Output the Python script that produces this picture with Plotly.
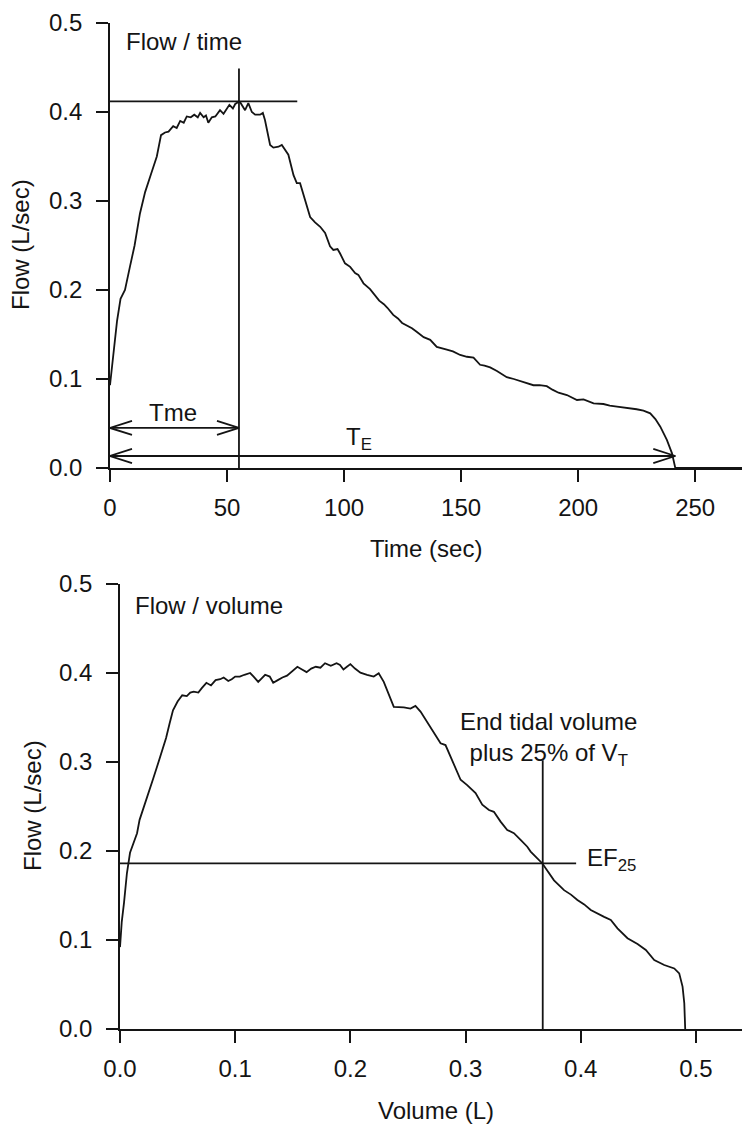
import plotly.graph_objects as go

# ---- Flow / time trace (time in s, flow in L/s) ----
time_s = [0, 1.5, 3, 4.5, 6.4, 8.5, 10.5, 12.8, 15, 17.5, 20, 21.8, 23.5, 25, 27, 28.5,
          30, 31.5, 32.8, 34.5, 36, 37.5, 38.5, 40, 41, 42, 43.5, 45, 47, 48.5, 50, 51,
          52.5, 53.5, 54.7, 55.6, 57.7, 59.1, 60.6, 62, 64.1, 65.3, 66.2, 68.4, 69.8, 72,
          73.4, 74.8, 76.2, 78.4, 79.8, 81.2, 83.3, 85.5, 87.6, 89.8, 91.9, 94, 95.4,
          97.2, 98.3, 100.4, 102.6, 104.7, 106.1, 108.3, 111.1, 113, 115, 117, 118.5,
          121, 123, 124.8, 127, 129, 131, 134, 136.8, 139.6, 143.9, 146.5, 149.6, 152.5,
          155.3, 158.1, 160, 162.4, 165.3, 169.5, 172.5, 175.2, 178, 180.9, 183.5, 186.6,
          189, 191.6, 195.2, 199.5, 202.3, 206.6, 210.8, 213.5, 216.6, 219.5, 222.2, 225,
          227.9, 230.8, 233, 235.1, 237.9, 240.1, 241.5, 270]
flow_t = [0.093, 0.13, 0.165, 0.19, 0.200, 0.226, 0.25, 0.286, 0.31, 0.33, 0.35, 0.374,
          0.377, 0.378, 0.384, 0.382, 0.39, 0.388, 0.395, 0.394, 0.397, 0.394, 0.399,
          0.394, 0.396, 0.388, 0.394, 0.395, 0.402, 0.398, 0.405, 0.408, 0.404, 0.409,
          0.411, 0.411, 0.402, 0.41, 0.40, 0.397, 0.397, 0.399, 0.391, 0.363, 0.36, 0.361,
          0.363, 0.357, 0.352, 0.329, 0.32, 0.32, 0.301, 0.282, 0.276, 0.271, 0.264,
          0.249, 0.245, 0.246, 0.241, 0.23, 0.226, 0.219, 0.217, 0.2075, 0.201, 0.195,
          0.188, 0.184, 0.18, 0.172, 0.168, 0.163, 0.16, 0.157, 0.153, 0.147, 0.144,
          0.136, 0.133, 0.131, 0.127, 0.125, 0.124, 0.116, 0.115, 0.113, 0.109, 0.102,
          0.1, 0.098, 0.096, 0.093, 0.093, 0.092, 0.088, 0.0846, 0.082, 0.0764, 0.077,
          0.0727, 0.0719, 0.07, 0.0689, 0.068, 0.067, 0.066, 0.0644, 0.0614, 0.055,
          0.0464, 0.0315, 0.0165, 0.0, 0.0]

# ---- Flow / volume trace (volume in L, flow in L/s) ----
volume_l = [0, 0.0015, 0.0035, 0.006, 0.0087, 0.012, 0.0148, 0.017, 0.021, 0.025, 0.029,
            0.032, 0.036, 0.04, 0.043, 0.046, 0.05, 0.054, 0.058, 0.061, 0.064, 0.068,
            0.071, 0.075, 0.079, 0.083, 0.087, 0.09, 0.094, 0.097, 0.1, 0.104, 0.108,
            0.113, 0.116, 0.12, 0.123, 0.126, 0.13, 0.133, 0.137, 0.141, 0.145, 0.149,
            0.154, 0.158, 0.162, 0.166, 0.17, 0.174, 0.178, 0.183, 0.188, 0.191, 0.194,
            0.197, 0.2, 0.204, 0.2087, 0.2145, 0.2203, 0.2246, 0.229, 0.2377, 0.2464,
            0.2522, 0.2565, 0.2609, 0.2667, 0.2725, 0.2783, 0.2826, 0.2884, 0.2957,
            0.3014, 0.3087, 0.3145, 0.3203, 0.3246, 0.3304, 0.3362, 0.342, 0.3478,
            0.3536, 0.3565, 0.3615, 0.3667, 0.3768, 0.3855, 0.3915, 0.3971, 0.403,
            0.4087, 0.4203, 0.4261, 0.4319, 0.4406, 0.4493, 0.4565, 0.4638, 0.4725,
            0.4812, 0.4855, 0.4884, 0.4899, 0.4907]
flow_v = [0.092, 0.12, 0.142, 0.175, 0.198, 0.21, 0.22, 0.235, 0.25, 0.265, 0.282, 0.294,
          0.31, 0.327, 0.343, 0.358, 0.368, 0.375, 0.374, 0.378, 0.379, 0.378, 0.383,
          0.389, 0.386, 0.392, 0.393, 0.395, 0.391, 0.393, 0.396, 0.396, 0.398, 0.4,
          0.396, 0.39, 0.394, 0.398, 0.396, 0.389, 0.392, 0.395, 0.397, 0.401, 0.407,
          0.404, 0.401, 0.405, 0.407, 0.406, 0.411, 0.408, 0.411, 0.409, 0.404, 0.407,
          0.41, 0.405, 0.4004, 0.398, 0.396, 0.3996, 0.390, 0.362, 0.3614, 0.360, 0.363,
          0.3566, 0.345, 0.332, 0.321, 0.319, 0.302, 0.280, 0.274, 0.265, 0.252, 0.246,
          0.244, 0.233, 0.2236, 0.22, 0.2124, 0.2048, 0.1993, 0.193, 0.186, 0.167,
          0.156, 0.151, 0.145, 0.14, 0.1337, 0.126, 0.1225, 0.113, 0.102, 0.0955,
          0.0888, 0.0775, 0.0719, 0.068, 0.0625, 0.0476, 0.029, 0.0]

# ---- derived indices ----
peak_flow = 0.412      # peak expiratory flow (L/s)
t_me = 55.1            # time to peak expiratory flow (s)
t_e = 241.5            # expiratory time (s)
ef25 = 0.186           # expiratory flow at end tidal volume + 25 % VT (L/s)
v_ef25 = 0.367         # volume at which EF25 is read (L)

time_ticks = [0, 50, 100, 150, 200, 250]
vol_ticks = [0.0, 0.1, 0.2, 0.3, 0.4, 0.5]
flow_ticks = [0.0, 0.1, 0.2, 0.3, 0.4, 0.5]

W, H = 744, 1126
INK = "#141414"
FONT = "Liberation Sans, Arial, Helvetica, sans-serif"
FS = 24
LW = 1.8


def px(a, b, total):
    return [a / total, b / total]


def arrowhead(tip, y, direction, dx, dy):
    """Open V arrowhead pointing toward `direction` (+1 right, -1 left)."""
    back = tip - direction * dx
    return [back, tip, back], [y + dy, y, y - dy]


fig = go.Figure()
line = dict(color=INK, width=LW)

# curves
fig.add_trace(go.Scatter(x=time_s, y=flow_t, mode="lines", line=line,
                         xaxis="x", yaxis="y", hoverinfo="skip"))
fig.add_trace(go.Scatter(x=volume_l, y=flow_v, mode="lines", line=line,
                         xaxis="x2", yaxis="y2", hoverinfo="skip"))

# Tme and TE double-headed arrows (top panel)
y_tme, y_te = 0.045, 0.0135
dx_t, dy_t = 9.4, 0.0079
fig.add_trace(go.Scatter(x=[0, t_me], y=[y_tme, y_tme], mode="lines", line=line,
                         xaxis="x", yaxis="y", hoverinfo="skip"))
fig.add_trace(go.Scatter(x=[0, t_e], y=[y_te, y_te], mode="lines", line=line,
                         xaxis="x", yaxis="y", hoverinfo="skip"))
for tip, yy, d in [(0, y_tme, -1), (t_me, y_tme, 1), (0, y_te, -1), (t_e, y_te, 1)]:
    ax_, ay_ = arrowhead(tip, yy, d, dx_t, dy_t)
    fig.add_trace(go.Scatter(x=ax_, y=ay_, mode="lines", line=line,
                             xaxis="x", yaxis="y", hoverinfo="skip"))

# reference lines
shapes = [
    dict(type="line", xref="x", yref="y", x0=0, x1=80, y0=peak_flow, y1=peak_flow, line=line),
    dict(type="line", xref="x", yref="y", x0=t_me, x1=t_me, y0=0, y1=0.449, line=line),
    dict(type="line", xref="x2", yref="y2", x0=0, x1=0.396, y0=ef25, y1=ef25, line=line),
    dict(type="line", xref="x2", yref="y2", x0=v_ef25, x1=v_ef25, y0=0, y1=0.302, line=line),
]

tfont = dict(family=FONT, size=FS, color=INK)
annotations = [
    # axis titles
    dict(text="Flow (L/sec)", x=21 / W, y=1 - 245 / H, xref="paper", yref="paper",
         textangle=-90, showarrow=False, font=tfont, xanchor="center", yanchor="middle"),
    dict(text="Time (sec)", x=426 / W, y=1 - 548 / H, xref="paper", yref="paper",
         showarrow=False, font=tfont, xanchor="center", yanchor="middle"),
    dict(text="Flow (L/sec)", x=32 / W, y=1 - 806 / H, xref="paper", yref="paper",
         textangle=-90, showarrow=False, font=tfont, xanchor="center", yanchor="middle"),
    dict(text="Volume (L)", x=436 / W, y=1 - 1110 / H, xref="paper", yref="paper",
         showarrow=False, font=tfont, xanchor="center", yanchor="middle"),
    # panel labels
    dict(text="Flow / time", x=6.0, y=0.479, xref="x", yref="y", showarrow=False,
         font=tfont, xanchor="left", yanchor="middle"),
    dict(text="Flow / volume", x=0.0113, y=0.476, xref="x2", yref="y2", showarrow=False,
         font=tfont, xanchor="left", yanchor="middle"),
    dict(text="Tme", x=26.9, y=0.062, xref="x", yref="y", showarrow=False,
         font=tfont, xanchor="center", yanchor="middle"),
    dict(text="T<sub>E</sub>", x=106.4, y=0.033, xref="x", yref="y", showarrow=False,
         font=tfont, xanchor="center", yanchor="middle"),
    dict(text="EF<sub>25</sub>", x=0.404, y=0.191, xref="x2", yref="y2", showarrow=False,
         font=tfont, xanchor="left", yanchor="middle"),
    dict(text="End tidal volume<br>plus 25% of V<sub>T</sub>", x=0.372, y=0.326,
         xref="x2", yref="y2", showarrow=False, font=tfont, xanchor="center",
         yanchor="middle", align="center"),
]

axis_common = dict(showline=True, linecolor=INK, linewidth=LW, ticks="outside",
                   ticklen=12, tickwidth=LW, tickcolor=INK, showgrid=False,
                   zeroline=False, tickfont=tfont, automargin=False)

fig.update_layout(
    template="none",
    width=W, height=H,
    margin=dict(l=0, r=0, t=0, b=0, pad=0),
    paper_bgcolor="white", plot_bgcolor="white",
    showlegend=False,
    shapes=shapes,
    annotations=annotations,
    xaxis=dict(domain=px(110, 742, W), range=[0, 270], tickvals=time_ticks,
               anchor="y", ticklabelstandoff=5, **axis_common),
    yaxis=dict(domain=[1 - 468 / H, 1 - 23 / H], range=[0, 0.5], tickvals=flow_ticks,
               tickformat=".1f", anchor="x", ticklabelstandoff=9, **axis_common),
    xaxis2=dict(domain=px(120, 742, W), range=[0, 0.54], tickvals=vol_ticks,
                tickformat=".1f", anchor="y2", ticklabelstandoff=5, **axis_common),
    yaxis2=dict(domain=[1 - 1029 / H, 1 - 584 / H], range=[0, 0.5], tickvals=flow_ticks,
                tickformat=".1f", anchor="x2", ticklabelstandoff=9, **axis_common),
)

fig.write_html("out.html")
